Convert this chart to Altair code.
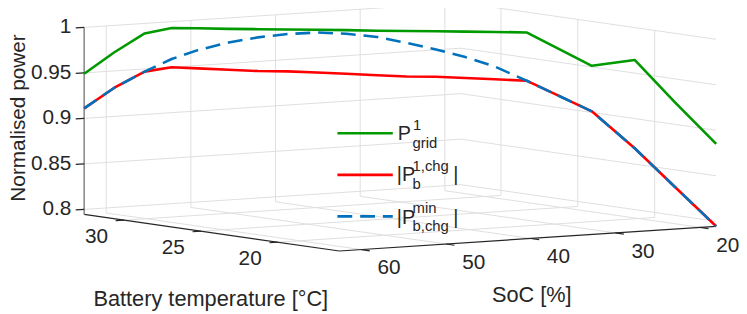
import altair as alt
import pandas as pd

# ---------------- data ----------------
# path of the operating point through (battery temperature, SoC)
temperature = [32.6, 31.9, 31.2, 30.6, 30.0, 29.2, 28.5, 27.8, 27.1, 26.4,
               25.6, 24.9, 24.2, 23.5, 22.8, 22.0, 19.9, 18.6, 17.3, 16.0]
soc = [62.6, 60.3, 58.0, 55.9, 53.9, 51.7, 49.5, 47.3, 45.1, 42.9,
       40.7, 38.5, 36.3, 34.1, 31.9, 29.6, 25.7, 23.0, 20.6, 18.1]
p_grid = [0.949, 0.973, 0.994, 1.0, 1.0, 1.0, 1.0, 1.0, 1.0, 1.0,
          1.0, 1.0, 1.0, 1.0, 1.0, 1.0, 0.966, 0.974, 0.929, 0.885]
p_b_chg = [0.911, 0.934, 0.952, 0.957, 0.956, 0.955, 0.954, 0.954, 0.953, 0.952,
           0.951, 0.950, 0.950, 0.949, 0.948, 0.947, 0.916, 0.877, 0.836, 0.7945]
p_b_min = [0.911, 0.934, 0.952, 0.966, 0.976, 0.985, 0.991, 0.995, 0.997, 0.996,
           0.993, 0.987, 0.980, 0.972, 0.962, 0.947, 0.916, 0.877, 0.836, 0.7945]

temp_ticks = [20, 25, 30]
soc_ticks = [20, 30, 40, 50, 60]
power_ticks = [0.8, 0.85, 0.9, 0.95, 1.0]
power_tick_labels = ["0.8", "0.85", "0.9", "0.95", "1"]

T_MIN, T_MAX = 16.0, 32.6
S_MIN, S_MAX = 18.1, 62.6
Z_MIN, Z_MAX = 0.7945, 1.0

# ---------------- view: oblique projection of the 3-D box ----------------
W, H = 739, 306
OX, OY = 77.0, 207.0        # corner (T max, SoC max, z min)
TX, TY = 15.54, 2.23        # screen shift per degree of temperature decrease
SX, SY = 8.56, -0.562       # screen shift per % of SoC decrease
ZY = 920.0                  # screen shift per unit of normalised power

FONT = "Liberation Sans"
TXT = "#262626"
GRID = "#dfdfdf"


def px(t, s):
    return f"{OX} + ({T_MAX} - ({t})) * {TX} + ({S_MAX} - ({s})) * {SX}"


def py(t, s, z):
    return (f"{OY} + ({T_MAX} - ({t})) * {TY} + ({S_MAX} - ({s})) * {SY}"
            f" - (({z}) - {Z_MIN}) * {ZY}")


XS = alt.Scale(domain=[0, W], nice=False, zero=False)
YS = alt.Scale(domain=[H, 0], nice=False, zero=False)


def seg_layer(rows, color, width):
    df = pd.DataFrame(rows, columns=["t1", "s1", "z1", "t2", "s2", "z2"])
    return alt.Chart(df).transform_calculate(
        x1=px("datum.t1", "datum.s1"),
        y1=py("datum.t1", "datum.s1", "datum.z1"),
        x2=px("datum.t2", "datum.s2"),
        y2=py("datum.t2", "datum.s2", "datum.z2"),
    ).mark_rule(color=color, strokeWidth=width).encode(
        x=alt.X("x1:Q", scale=XS, axis=None),
        y=alt.Y("y1:Q", scale=YS, axis=None),
        x2="x2:Q", y2="y2:Q",
    )


def curve_layer(values, color, dash=None):
    df = pd.DataFrame({"i": list(range(len(values))), "t": temperature,
                       "s": soc, "z": values})
    kw = dict(color=color, strokeWidth=2.6, strokeJoin="round")
    if dash:
        kw["strokeDash"] = dash
        kw["strokeCap"] = "butt"
    return alt.Chart(df).transform_calculate(
        px=px("datum.t", "datum.s"), py=py("datum.t", "datum.s", "datum.z")
    ).mark_line(**kw).encode(
        x=alt.X("px:Q", scale=XS, axis=None),
        y=alt.Y("py:Q", scale=YS, axis=None),
        order="i:Q",
    )


def label_layer(rows, dx, dy, align):
    df = pd.DataFrame(rows, columns=["t", "s", "z", "label"])
    return alt.Chart(df).transform_calculate(
        px=px("datum.t", "datum.s"), py=py("datum.t", "datum.s", "datum.z")
    ).mark_text(dx=dx, dy=dy, align=align, baseline="middle", font=FONT,
                fontSize=21, color=TXT).encode(
        x=alt.X("px:Q", scale=XS, axis=None),
        y=alt.Y("py:Q", scale=YS, axis=None),
        text="label:N",
    )


def text_at(text, x, y, size, align="left", baseline="alphabetic", angle=0):
    kw = dict(text=text, align=align, baseline=baseline, font=FONT,
              fontSize=size, color=TXT)
    if angle:
        kw["angle"] = angle
    return alt.Chart(pd.DataFrame({"k": [0]})).mark_text(**kw).encode(
        x=alt.value(x), y=alt.value(y))


def legend_line(color, y, dash=None):
    kw = dict(color=color, strokeWidth=2.6)
    if dash:
        kw["strokeDash"] = dash
    return alt.Chart(pd.DataFrame({"k": [0]})).mark_rule(**kw).encode(
        x=alt.value(333), x2=alt.value(389), y=alt.value(y))


# ---------------- grid on the back walls and the floor ----------------
grid = []
for s in soc_ticks:
    grid.append((T_MAX, s, Z_MIN, T_MAX, s, Z_MAX))
    grid.append((T_MAX, s, Z_MIN, T_MIN, s, Z_MIN))
for t in temp_ticks:
    grid.append((t, S_MIN, Z_MIN, t, S_MIN, Z_MAX))
    grid.append((t, S_MAX, Z_MIN, t, S_MIN, Z_MIN))
for z in power_ticks:
    grid.append((T_MAX, S_MAX, z, T_MAX, S_MIN, z))
    grid.append((T_MAX, S_MIN, z, T_MIN, S_MIN, z))

axes_dark = [
    (T_MAX, S_MAX, Z_MIN, T_MIN, S_MAX, Z_MIN),
    (T_MIN, S_MAX, Z_MIN, T_MIN, S_MIN, Z_MIN),
]
axis_z = [(T_MAX, S_MAX, Z_MIN, T_MAX, S_MAX, Z_MAX)]

ticks = []
for z in power_ticks:
    ticks.append((T_MAX, S_MAX, z, T_MAX, S_MAX + 1.0, z))
for t in temp_ticks:
    ticks.append((t, S_MAX, Z_MIN, t, S_MAX + 1.0, Z_MIN))
for s in soc_ticks:
    ticks.append((T_MIN, s, Z_MIN, T_MIN - 0.55, s, Z_MIN))

z_labels = [(T_MAX, S_MAX, z, lab) for z, lab in zip(power_ticks, power_tick_labels)]
t_labels = [(t, S_MAX, Z_MIN, str(t)) for t in temp_ticks]
s_labels = [(T_MIN, s, Z_MIN, str(s)) for s in soc_ticks]

GREEN, RED, BLUE = "#009a00", "#ff0000", "#0072bd"
DASH = [15, 8]

layers = [
    seg_layer(grid, GRID, 1),
    seg_layer(axes_dark, TXT, 1.2),
    seg_layer(axis_z, "#8c8c8c", 1.6),
    seg_layer(ticks, TXT, 1.2),
    label_layer(z_labels, -13, 0, "right"),
    label_layer(t_labels, -28, 17, "center"),
    label_layer(s_labels, 28, 19, "center"),
    curve_layer(p_grid, GREEN),
    curve_layer(p_b_chg, RED),
    curve_layer(p_b_min, BLUE, DASH),
    # axis titles
    text_at("Normalised power", 11, 109.5, 21, align="center", baseline="middle", angle=270),
    text_at("Battery temperature [°C]", 205, 293, 22, align="center", baseline="middle"),
    text_at("SoC [%]", 529.5, 289, 22, align="center", baseline="middle"),
    # legend
    legend_line(GREEN, 125),
    text_at("P", 394, 131.5, 20),
    text_at("1", 409.5, 122, 15),
    text_at("grid", 409, 139.5, 15),
    legend_line(RED, 167),
    text_at("|P", 393, 173.5, 20),
    text_at("1,chg", 409, 163.5, 15),
    text_at("b", 409, 181.5, 15),
    text_at("|", 450, 173.5, 20),
    legend_line(BLUE, 209, DASH),
    text_at("|P", 393, 217, 20),
    text_at("min", 409, 205.5, 15),
    text_at("b,chg", 409, 223.5, 15),
    text_at("|", 450, 217, 20),
]

chart = alt.layer(*layers).properties(
    width=W, height=H, padding=0,
    autosize=alt.AutoSizeParams(type="none"),
    background="white",
).configure_view(stroke=None)

chart.save("out.html", embed_options={"renderer": "svg", "actions": False})
